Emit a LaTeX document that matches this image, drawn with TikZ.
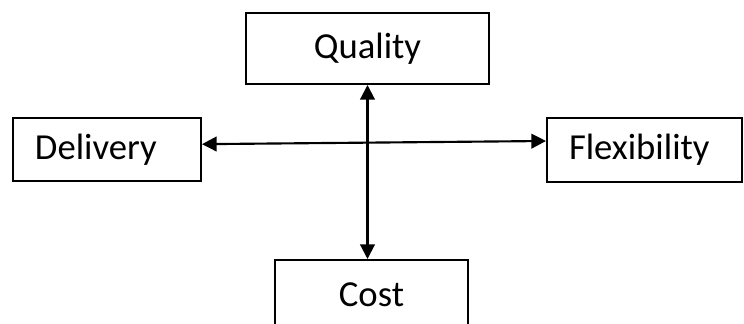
\documentclass[tikz,border=0pt]{standalone}
\usepackage{fontspec}
\setmainfont{Carlito}
\usetikzlibrary{arrows.meta}

\tikzset{
    box/.style={draw, line width=1.5pt, inner sep=0pt, font=\fontsize{27.5}{32}\selectfont},
    side/.style={box, align=left, inner xsep=16.5pt},
}

\begin{document}
\begin{tikzpicture}[x=0.75pt, y=-0.75pt, >={Triangle[length=11pt,width=11pt]}]
    \useasboundingbox (0, 0) rectangle (744, 324);
    \clip (0, 0) rectangle (744, 324);
    \path (367.5, 48.5) node [box, minimum width=182.25pt, minimum height=53.25pt] (qu) {Quality};
    \path (107, 149.5) node [side, text width=108pt, minimum height=47.25pt] (de) {Delivery};
    \path (644.5, 150) node [side, text width=113.25pt, minimum height=48pt] (fl) {Flexibility};
    \path (371.5, 295) node [box, minimum width=144.75pt, minimum height=52.5pt] (co) {Cost};
    \draw [<->, line width=1.6pt] ([yshift=4pt]de.east) -- ([yshift=6.75pt]fl.west);
    \draw [<->, line width=1.6pt] (qu.south) -- (qu.south |- co.north);
\end{tikzpicture}
\end{document}
